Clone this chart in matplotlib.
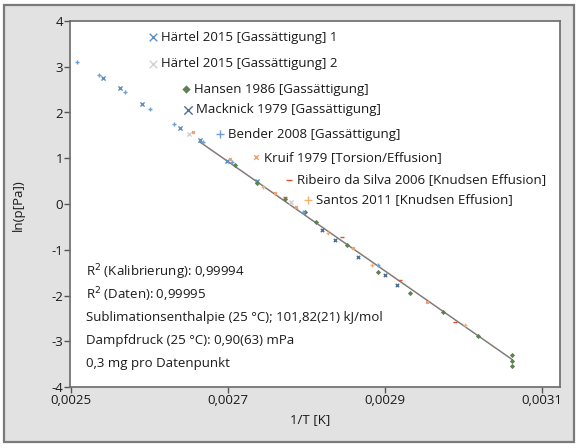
import numpy as np
import matplotlib
matplotlib.use("Agg")
import matplotlib.pyplot as plt
from matplotlib.patches import Rectangle
from matplotlib.ticker import FuncFormatter

plt.rcParams["font.family"] = ["Open Sans", "DejaVu Sans"]

# data (1/T in 1/K, ln(p/Pa))
haertel1_x = [0.002541, 0.002562, 0.002590, 0.002639, 0.002664, 0.002699, 0.002737]
haertel1_y = [2.75, 2.54, 2.19, 1.66, 1.40, 0.93, 0.50]
haertel2_x = [0.002650, 0.002780]
haertel2_y = [1.52, 0.05]
hansen_x = [0.002709, 0.002737, 0.002773, 0.002798, 0.002812, 0.002852, 0.002891,
            0.002932, 0.002974, 0.003018, 0.003062, 0.003062, 0.003062]
hansen_y = [0.85, 0.46, 0.11, -0.17, -0.39, -0.90, -1.49, -1.95, -2.36, -2.89,
            -3.30, -3.43, -3.54]
macknick_x = [0.002820, 0.002836, 0.002866, 0.002900, 0.002915]
macknick_y = [-0.57, -0.79, -1.16, -1.55, -1.77]
bender_x = [0.002508, 0.002536, 0.002569, 0.002601, 0.002631, 0.002668, 0.002705,
            0.002796, 0.002891]
bender_y = [3.10, 2.82, 2.45, 2.08, 1.75, 1.36, 0.92, -0.17, -1.34]
kruif_x = [0.002655, 0.002703, 0.002760, 0.002787, 0.002859, 0.002953]
kruif_y = [1.57, 0.98, 0.24, -0.07, -0.96, -2.14]
ribeiro_x = [0.002773, 0.002845, 0.002919, 0.002989]
ribeiro_y = [0.15, -0.72, -1.66, -2.58]
santos_x = [0.002745, 0.002827, 0.002883, 0.003002]
santos_y = [0.38, -0.63, -1.33, -2.64]

# fit lines ln p = a + b / T
fit_range = [0.002664, 0.003062]
fit_cal = (33.19, -11950.0)
fit_data = (33.22, -11958.0)

info_lines = [
    "R$^2$ (Kalibrierung): 0,99994",
    "R$^2$ (Daten): 0,99995",
    "Sublimationsenthalpie (25 °C); 101,82(21) kJ/mol",
    "Dampfdruck (25 °C): 0,90(63) mPa",
    "0,3 mg pro Datenpunkt",
]

x_ticks = [0.0025, 0.0027, 0.0029, 0.0031]
y_ticks = [-4, -3, -2, -1, 0, 1, 2, 3, 4]

# label, x, y, marker, colour, data size, legend size, legend position
series = [
    ("Härtel 2015 [Gassättigung] 1", haertel1_x, haertel1_y, "x", "#5d8ec4", 9, 30, 0.169, 0.956),
    ("Härtel 2015 [Gassättigung] 2", haertel2_x, haertel2_y, "x", "#d2d2d2", 9, 30, 0.169, 0.883),
    ("Hansen 1986 [Gassättigung]", hansen_x, hansen_y, "D", "#5f8050", 7, 18, 0.237, 0.814),
    ("Macknick 1979 [Gassättigung]", macknick_x, macknick_y, "x", "#4f6f96", 6, 36, 0.241, 0.757),
    ("Bender 2008 [Gassättigung]", bender_x, bender_y, "+", "#6f9fd8", 10, 36, 0.306, 0.691),
    ("Kruif 1979 [Torsion/Effusion]", kruif_x, kruif_y, "x", "#f0a070", 4, 12, 0.380, 0.628),
    ("Ribeiro da Silva 2006 [Knudsen Effusion]", ribeiro_x, ribeiro_y, "_", "#d9542c", 8, 24, 0.447, 0.566),
    ("Santos 2011 [Knudsen Effusion]", santos_x, santos_y, "+", "#f5b070", 10, 36, 0.486, 0.511),
]

fig = plt.figure(figsize=(5.8, 4.48), dpi=100)
fig.patch.set_facecolor("white")
fig.patches.append(Rectangle((4 / 580, 1 - 442 / 448), 570 / 580, 437 / 448,
                             transform=fig.transFigure, facecolor="#e2e2e2",
                             edgecolor="#7a7a7a", linewidth=1.6, zorder=-5))

ax = fig.add_axes([70 / 580, 61 / 448, 490 / 580, 366 / 448])
ax.set_zorder(2)
ax.set_facecolor("white")

xs = np.array(fit_range)
ax.plot(xs, fit_data[0] + fit_data[1] * xs, color="#e8a878", lw=1.0, alpha=0.8, zorder=2)
ax.plot(xs, fit_cal[0] + fit_cal[1] * xs, color="#6f7a88", lw=0.9, zorder=2.5)

for label, x, y, m, c, s, ls, lx, ly in series:
    lw = 1.0 if m in ("x", "+", "_") else 0
    ax.scatter(x, y, marker=m, s=s, color=c, linewidths=lw, zorder=3)
    ax.scatter([lx], [ly], marker=m, s=ls, color=c, linewidths=lw,
               transform=ax.transAxes, zorder=3, clip_on=False)
    ax.text(lx + 0.016, ly, label, transform=ax.transAxes, fontsize=9.5,
            va="center", ha="left", color="#1a1a1a")

for i, line in enumerate(info_lines):
    ax.text(0.033, 0.315 - i * 0.0625, line, transform=ax.transAxes,
            fontsize=9.5, va="center", ha="left", color="#1a1a1a")

ax.set_xlim(0.0025 - 1 / 785000, 0.0025 + 489 / 785000)
ax.set_ylim(-4, 4)
ax.set_xticks(x_ticks)
ax.set_yticks(y_ticks)
ax.xaxis.set_major_formatter(FuncFormatter(lambda v, p: f"{v:.4f}".replace(".", ",")))
ax.yaxis.set_major_formatter(FuncFormatter(lambda v, p: f"{v:.0f}"))
ax.tick_params(direction="out", length=4, width=1, colors="#555555",
               labelcolor="#1a1a1a", labelsize=9.5, pad=1)

for sp in ax.spines.values():
    sp.set_color("#6a6a6a")
    sp.set_linewidth(1.2)

fig.text(18 / 580, 1 - 205 / 448, "ln(p[Pa])", rotation=90, ha="center",
         va="center", fontsize=9.5, color="#1a1a1a")
fig.text(310 / 580, 1 - 420 / 448, "1/T [K]", ha="center", va="center",
         fontsize=9.5, color="#1a1a1a")

fig.savefig("out.png", dpi=100)
